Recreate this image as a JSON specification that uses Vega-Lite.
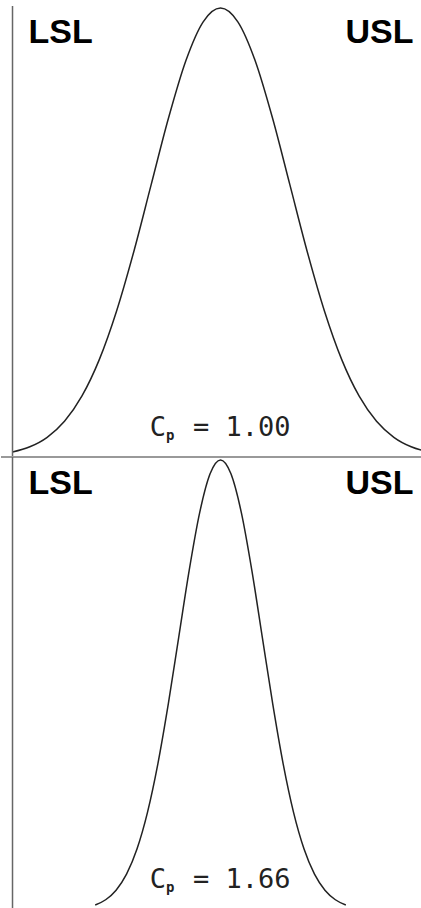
{
  "$schema": "https://vega.github.io/schema/vega-lite/v6.json",
  "padding": 0,
  "spacing": 0,
  "bounds": "flush",
  "background": "white",
  "config": {"view": {"stroke": null}},
  "datasets": {
    "cp100": [
      {"x": -3.0, "y": 0.01111}, {"x": -2.75, "y": 0.02279}, {"x": -2.5, "y": 0.04394}, {"x": -2.25, "y": 0.07956},
      {"x": -2.0, "y": 0.13534}, {"x": -1.75, "y": 0.21627}, {"x": -1.5, "y": 0.32465}, {"x": -1.25, "y": 0.45783},
      {"x": -1.0, "y": 0.60653}, {"x": -0.75, "y": 0.75484}, {"x": -0.5, "y": 0.8825}, {"x": -0.25, "y": 0.96923},
      {"x": 0.0, "y": 1.0},
      {"x": 0.25, "y": 0.96923}, {"x": 0.5, "y": 0.8825}, {"x": 0.75, "y": 0.75484}, {"x": 1.0, "y": 0.60653},
      {"x": 1.25, "y": 0.45783}, {"x": 1.5, "y": 0.32465}, {"x": 1.75, "y": 0.21627}, {"x": 2.0, "y": 0.13534},
      {"x": 2.25, "y": 0.07956}, {"x": 2.5, "y": 0.04394}, {"x": 2.75, "y": 0.02279}, {"x": 3.0, "y": 0.01111}
    ],
    "cp166": [
      {"x": -1.8072, "y": 0.01111}, {"x": -1.6566, "y": 0.02279}, {"x": -1.506, "y": 0.04394}, {"x": -1.3554, "y": 0.07956},
      {"x": -1.2048, "y": 0.13534}, {"x": -1.0542, "y": 0.21627}, {"x": -0.9036, "y": 0.32465}, {"x": -0.753, "y": 0.45783},
      {"x": -0.6024, "y": 0.60653}, {"x": -0.4518, "y": 0.75484}, {"x": -0.3012, "y": 0.8825}, {"x": -0.1506, "y": 0.96923},
      {"x": 0.0, "y": 1.0},
      {"x": 0.1506, "y": 0.96923}, {"x": 0.3012, "y": 0.8825}, {"x": 0.4518, "y": 0.75484}, {"x": 0.6024, "y": 0.60653},
      {"x": 0.753, "y": 0.45783}, {"x": 0.9036, "y": 0.32465}, {"x": 1.0542, "y": 0.21627}, {"x": 1.2048, "y": 0.13534},
      {"x": 1.3554, "y": 0.07956}, {"x": 1.506, "y": 0.04394}, {"x": 1.6566, "y": 0.02279}, {"x": 1.8072, "y": 0.01111}
    ]
  },
  "vconcat": [
    {
      "width": 421,
      "height": 457,
      "layer": [
        {
          "data": {"name": "cp100"},
          "mark": {"type": "line", "interpolate": "monotone", "clip": true, "color": "#222222", "strokeWidth": 1.5},
          "encoding": {
            "x": {"field": "x", "type": "quantitative", "scale": {"domain": [-3.166, 2.906]}, "axis": null},
            "y": {"field": "y", "type": "quantitative", "scale": {"domain": [0, 1.0178]}, "axis": null}
          }
        },
        {
          "data": {"values": [{"limit": "LSL"}]},
          "mark": {"type": "rule", "color": "#666666", "strokeWidth": 1.5},
          "encoding": {
            "x": {"datum": -3, "type": "quantitative", "scale": {"domain": [-3.166, 2.906]}, "axis": null},
            "y": {"datum": 1.0044, "type": "quantitative", "scale": {"domain": [0, 1.0178]}, "axis": null},
            "y2": {"datum": 0}
          }
        },
        {
          "data": {"values": [{"line": "baseline"}]},
          "mark": {"type": "rule", "color": "#999999", "strokeWidth": 2},
          "encoding": {
            "y": {"datum": 0, "type": "quantitative", "scale": {"domain": [0, 1.0178]}, "axis": null}
          }
        },
        {
          "data": {"values": [{"label": "LSL"}]},
          "mark": {"type": "text", "align": "left", "baseline": "alphabetic", "dx": 16, "font": "Liberation Sans", "fontWeight": "bold", "fontSize": 34, "color": "#000000"},
          "encoding": {
            "text": {"field": "label"},
            "x": {"datum": -3, "type": "quantitative", "scale": {"domain": [-3.166, 2.906]}, "axis": null},
            "y": {"datum": 0.922, "type": "quantitative", "scale": {"domain": [0, 1.0178]}, "axis": null}
          }
        },
        {
          "data": {"values": [{"label": "USL"}]},
          "mark": {"type": "text", "align": "right", "baseline": "alphabetic", "dx": -15, "font": "Liberation Sans", "fontWeight": "bold", "fontSize": 34, "color": "#000000"},
          "encoding": {
            "text": {"field": "label"},
            "x": {"datum": 3, "type": "quantitative", "scale": {"domain": [-3.166, 2.906]}, "axis": null},
            "y": {"datum": 0.922, "type": "quantitative", "scale": {"domain": [0, 1.0178]}, "axis": null}
          }
        },
        {
          "data": {"values": [{"label": "C"}]},
          "mark": {"type": "text", "align": "left", "baseline": "alphabetic", "font": "DejaVu Sans Mono", "fontSize": 27, "color": "#222222"},
          "encoding": {
            "text": {"field": "label"},
            "x": {"datum": -1.02, "type": "quantitative", "scale": {"domain": [-3.166, 2.906]}, "axis": null},
            "y": {"datum": 0.0468, "type": "quantitative", "scale": {"domain": [0, 1.0178]}, "axis": null}
          }
        },
        {
          "data": {"values": [{"label": "p"}]},
          "mark": {"type": "text", "align": "left", "baseline": "alphabetic", "font": "DejaVu Sans Mono", "fontWeight": "bold", "fontSize": 14, "color": "#222222"},
          "encoding": {
            "text": {"field": "label"},
            "x": {"datum": -0.786, "type": "quantitative", "scale": {"domain": [-3.166, 2.906]}, "axis": null},
            "y": {"datum": 0.0379, "type": "quantitative", "scale": {"domain": [0, 1.0178]}, "axis": null}
          }
        },
        {
          "data": {"values": [{"label": "= 1.00"}]},
          "mark": {"type": "text", "align": "left", "baseline": "alphabetic", "font": "DejaVu Sans Mono", "fontSize": 27, "color": "#222222"},
          "encoding": {
            "text": {"field": "label"},
            "x": {"datum": -0.397, "type": "quantitative", "scale": {"domain": [-3.166, 2.906]}, "axis": null},
            "y": {"datum": 0.0468, "type": "quantitative", "scale": {"domain": [0, 1.0178]}, "axis": null}
          }
        }
      ]
    },
    {
      "width": 421,
      "height": 451,
      "layer": [
        {
          "data": {"name": "cp166"},
          "mark": {"type": "line", "interpolate": "monotone", "clip": true, "color": "#222222", "strokeWidth": 1.5},
          "encoding": {
            "x": {"field": "x", "type": "quantitative", "scale": {"domain": [-3.166, 2.906]}, "axis": null},
            "y": {"field": "y", "type": "quantitative", "scale": {"domain": [0.00445, 1.00667]}, "axis": null}
          }
        },
        {
          "data": {"values": [{"limit": "LSL"}]},
          "mark": {"type": "rule", "color": "#666666", "strokeWidth": 1.5},
          "encoding": {
            "x": {"datum": -3, "type": "quantitative", "scale": {"domain": [-3.166, 2.906]}, "axis": null}
          }
        },
        {
          "data": {"values": [{"label": "LSL"}]},
          "mark": {"type": "text", "align": "left", "baseline": "alphabetic", "dx": 16, "font": "Liberation Sans", "fontWeight": "bold", "fontSize": 34, "color": "#000000"},
          "encoding": {
            "text": {"field": "label"},
            "x": {"datum": -3, "type": "quantitative", "scale": {"domain": [-3.166, 2.906]}, "axis": null},
            "y": {"datum": 0.9244, "type": "quantitative", "scale": {"domain": [0.00445, 1.00667]}, "axis": null}
          }
        },
        {
          "data": {"values": [{"label": "USL"}]},
          "mark": {"type": "text", "align": "right", "baseline": "alphabetic", "dx": -15, "font": "Liberation Sans", "fontWeight": "bold", "fontSize": 34, "color": "#000000"},
          "encoding": {
            "text": {"field": "label"},
            "x": {"datum": 3, "type": "quantitative", "scale": {"domain": [-3.166, 2.906]}, "axis": null},
            "y": {"datum": 0.9244, "type": "quantitative", "scale": {"domain": [0.00445, 1.00667]}, "axis": null}
          }
        },
        {
          "data": {"values": [{"label": "C"}]},
          "mark": {"type": "text", "align": "left", "baseline": "alphabetic", "font": "DejaVu Sans Mono", "fontSize": 27, "color": "#222222"},
          "encoding": {
            "text": {"field": "label"},
            "x": {"datum": -1.02, "type": "quantitative", "scale": {"domain": [-3.166, 2.906]}, "axis": null},
            "y": {"datum": 0.0489, "type": "quantitative", "scale": {"domain": [0.00445, 1.00667]}, "axis": null}
          }
        },
        {
          "data": {"values": [{"label": "p"}]},
          "mark": {"type": "text", "align": "left", "baseline": "alphabetic", "font": "DejaVu Sans Mono", "fontWeight": "bold", "fontSize": 14, "color": "#222222"},
          "encoding": {
            "text": {"field": "label"},
            "x": {"datum": -0.786, "type": "quantitative", "scale": {"domain": [-3.166, 2.906]}, "axis": null},
            "y": {"datum": 0.04, "type": "quantitative", "scale": {"domain": [0.00445, 1.00667]}, "axis": null}
          }
        },
        {
          "data": {"values": [{"label": "= 1.66"}]},
          "mark": {"type": "text", "align": "left", "baseline": "alphabetic", "font": "DejaVu Sans Mono", "fontSize": 27, "color": "#222222"},
          "encoding": {
            "text": {"field": "label"},
            "x": {"datum": -0.397, "type": "quantitative", "scale": {"domain": [-3.166, 2.906]}, "axis": null},
            "y": {"datum": 0.0489, "type": "quantitative", "scale": {"domain": [0.00445, 1.00667]}, "axis": null}
          }
        }
      ]
    }
  ]
}
